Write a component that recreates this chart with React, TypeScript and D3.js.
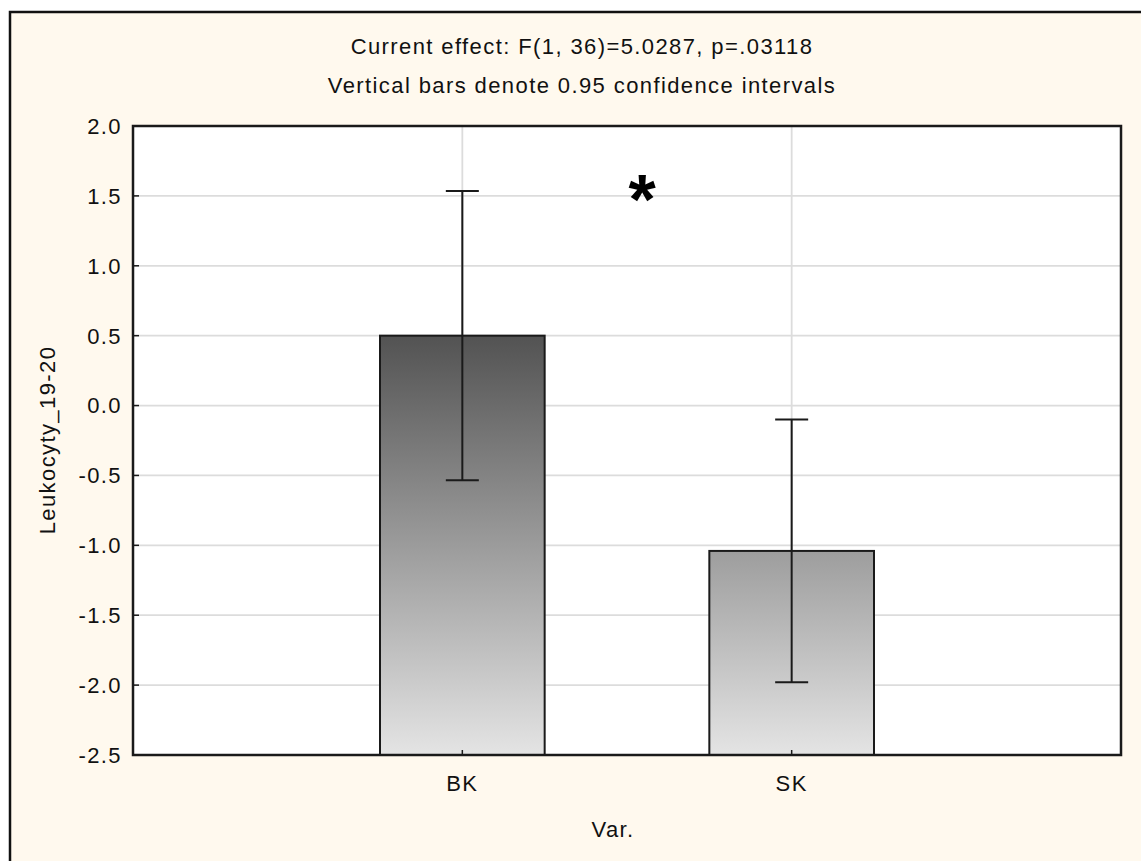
import React from "react";
import * as d3 from "d3";

const categories = ["BK", "SK"];
const means = [0.5, -1.04];
const ciLower = [-0.535, -1.98];
const ciUpper = [1.535, -0.1];
const yTicks = [2.0, 1.5, 1.0, 0.5, 0.0, -0.5, -1.0, -1.5, -2.0, -2.5];
const titleLines = [
  "Current effect: F(1, 36)=5.0287, p=.03118",
  "Vertical bars denote 0.95 confidence intervals",
];
const yLabel = "Leukocyty_19-20";
const xLabel = "Var.";

const W = 1141;
const H = 861;
const plot = { left: 133, top: 126, right: 1121, bottom: 755 };
const FONT = "'Liberation Sans', Arial, sans-serif";

export default function App() {
  const y = d3.scaleLinear().domain([-2.5, 2.0]).range([plot.bottom, plot.top]);
  const x = d3
    .scalePoint<string>()
    .domain(categories)
    .range([plot.left, plot.right])
    .padding(1);
  const step = x.step();
  const barW = step * 0.5;
  const capW = 33;
  const textStyle = { fontFamily: FONT, fontSize: 22, letterSpacing: 1.4, fill: "#111" };
  const fmt = (v: number) => d3.format(".1f")(v).replace("\u2212", "-");

  return (
    <svg
      width={W}
      height={H}
      style={{ position: "absolute", left: 0, top: 0, display: "block" }}
    >
      <defs>
        <linearGradient
          id="barGrad"
          gradientUnits="userSpaceOnUse"
          x1={0}
          x2={0}
          y1={y(2.0)}
          y2={y(-2.5)}
        >
          <stop offset="0%" stopColor="rgb(10,10,10)" />
          <stop offset="100%" stopColor="rgb(228,228,228)" />
        </linearGradient>
      </defs>
      <rect x={0} y={0} width={W} height={H} fill="#ffffff" />
      <rect x={10} y={12} width={W + 20} height={H + 20} fill="#fff9ee" stroke="#111" strokeWidth={2.5} />

      {titleLines.map((t, i) => (
        <text
          key={i}
          x={582}
          y={54 + i * 39}
          textAnchor="middle"
          style={textStyle}
        >
          {t}
        </text>
      ))}

      <rect
        x={plot.left}
        y={plot.top}
        width={plot.right - plot.left}
        height={plot.bottom - plot.top}
        fill="#ffffff"
      />

      {yTicks.slice(1, -1).map((t) => (
        <line
          key={"gh" + t}
          x1={plot.left}
          x2={plot.right}
          y1={y(t)}
          y2={y(t)}
          stroke="#dcdcdc"
          strokeWidth={1.8}
        />
      ))}
      {categories.map((c) => (
        <line
          key={"gv" + c}
          x1={x(c)}
          x2={x(c)}
          y1={plot.top}
          y2={plot.bottom}
          stroke="#dcdcdc"
          strokeWidth={1.8}
        />
      ))}

      {categories.map((c, i) => (
        <rect
          key={"bar" + c}
          x={(x(c) as number) - barW / 2}
          y={y(means[i])}
          width={barW}
          height={y(-2.5) - y(means[i])}
          fill="url(#barGrad)"
          stroke="#1a1a1a"
          strokeWidth={2}
        />
      ))}

      {categories.map((c, i) => {
        const cx = x(c) as number;
        return (
          <g key={"err" + c} stroke="#1a1a1a" strokeWidth={2}>
            <line x1={cx} x2={cx} y1={y(ciUpper[i])} y2={y(ciLower[i])} />
            <line x1={cx - capW / 2} x2={cx + capW / 2} y1={y(ciUpper[i])} y2={y(ciUpper[i])} />
            <line x1={cx - capW / 2} x2={cx + capW / 2} y1={y(ciLower[i])} y2={y(ciLower[i])} />
          </g>
        );
      })}

      <rect
        x={plot.left}
        y={plot.top}
        width={plot.right - plot.left}
        height={plot.bottom - plot.top}
        fill="none"
        stroke="#1a1a1a"
        strokeWidth={2.5}
      />

      {yTicks.map((t) => (
        <g key={"yt" + t}>
          <line x1={plot.left} x2={plot.left + 6} y1={y(t)} y2={y(t)} stroke="#1a1a1a" strokeWidth={1.5} />
          <text
            x={122}
            y={y(t)}
            dy="0.36em"
            textAnchor="end"
            style={textStyle}
          >
            {fmt(t)}
          </text>
        </g>
      ))}

      {categories.map((c) => (
        <g key={"xt" + c}>
          <line
            x1={x(c)}
            x2={x(c)}
            y1={plot.bottom}
            y2={plot.bottom - 5}
            stroke="#1a1a1a"
            strokeWidth={1.5}
          />
          <text x={x(c)} y={791} textAnchor="middle" style={textStyle}>
            {c}
          </text>
        </g>
      ))}

      <text x={613} y={837} textAnchor="middle" style={textStyle}>
        {xLabel}
      </text>
      <text
        transform={`translate(55, 440) rotate(-90)`}
        textAnchor="middle"
        style={textStyle}
      >
        {yLabel}
      </text>

      <text
        x={642}
        y={224}
        textAnchor="middle"
        style={{ fontFamily: FONT, fontSize: 70, fontWeight: "bold", fill: "#000" }}
      >
        *
      </text>
    </svg>
  );
}
